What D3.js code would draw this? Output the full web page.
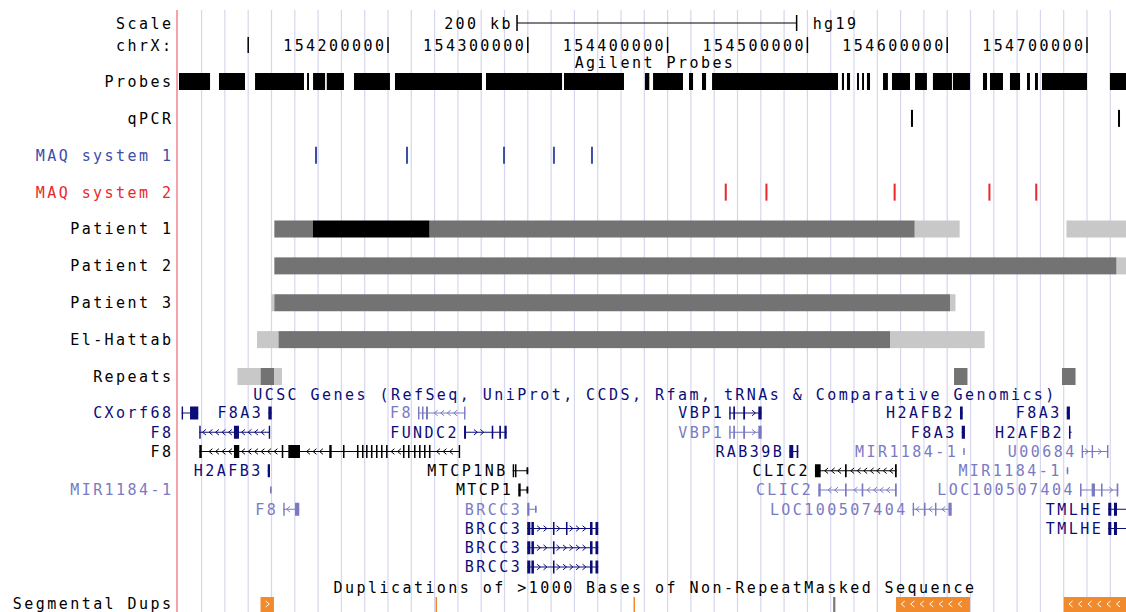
<!DOCTYPE html>
<html>
<head>
<meta charset="utf-8">
<script src="https://cdn.jsdelivr.net/npm/d3@7"></script>
<style>
  body { margin: 0; background: #fff; }
  svg { display: block; }
  text { font-family: "DejaVu Sans Mono", monospace; font-size: 15px; letter-spacing: 2.45px; }
</style>
</head>
<body>
<svg id="chart" width="1126" height="612"></svg>
<script>
// ---- data (positions in kb on chrX, hg19) ----
const viewRange = [154049.07, 154727.9];
const axisTicks = [154100, 154200, 154300, 154400, 154500, 154600, 154700];
const tickLabels = ['', '154200000', '154300000', '154400000', '154500000', '154600000', '154700000'];
const scaleBarStart = 154292.3;
const scaleBarKb = 200;

const trackNames = ['Probes', 'qPCR', 'MAQ system 1', 'MAQ system 2', 'Patient 1', 'Patient 2', 'Patient 3', 'El-Hattab', 'Repeats'];

const probes = [
  [154050.5, 154072.7], [154079.1, 154097.7], [154104.9, 154139.9], [154142.1, 154143.5],
  [154146.4, 154155.0], [154156.2, 154168.5], [154175.7, 154201.4], [154205.0, 154267.2], [154270.1, 154324.5],
  [154325.9, 154368.8], [154383.8, 154386.9], [154389.6, 154411.0], [154415.3, 154418.2],
  [154424.6, 154427.5], [154431.8, 154521.9], [154524.7, 154526.2], [154528.3, 154530.5],
  [154535.5, 154536.9], [154539.1, 154540.5], [154542.6, 154544.8], [154554.1, 154557.6],
  [154560.5, 154573.4], [154577.0, 154585.5], [154589.8, 154603.4], [154604.1, 154616.3],
  [154625.6, 154628.5], [154630.6, 154639.9], [154644.9, 154652.1], [154657.1, 154659.2],
  [154662.8, 154664.9], [154667.8, 154700.0], [154716.4, 154740.0]
];
const qpcrSites = [154574.8, 154722.9];
const maq1Sites = [154148.5, 154213.6, 154283.0, 154318.7, 154345.9];
const maq2Sites = [154441.6, 154470.7, 154562.4, 154630.2, 154663.7];

// level: 2 = black, 1 = dark grey, 0 = light grey
const patient1 = [[154118.7, 154146.3, 1], [154146.3, 154229.8, 2], [154229.8, 154576.8, 1], [154576.8, 154608.9, 0], [154685.3, 154740, 0]];
const patient2 = [[154118.7, 154721.2, 1], [154721.2, 154740, 0]];
const patient3 = [[154116.6, 154118.7, 0], [154118.7, 154602.0, 1], [154602.0, 154605.9, 0]];
const elHattab = [[154106.3, 154121.7, 0], [154121.7, 154559.1, 1], [154559.1, 154626.8, 0]];
const repeats = [[154092.3, 154108.9, 0], [154108.9, 154118.7, 1], [154118.7, 154124.2, 0], [154604.9, 154614.5, 1], [154682.1, 154691.8, 1]];

// UCSC genes: kind pdb = black, refseq = dark blue, other = light blue; exon [start, end, coding]
const genes = [
  { name: 'CXorf68', row: 1, kind: 'refseq', strand: '+', start: 154052.4, end: 154064.3, exons: [[154052.4, 154053.4, 1], [154058.4, 154064.3, 1]] },
  { name: 'F8A3', row: 1, kind: 'refseq', strand: '-', start: 154114.4, end: 154116.8, exons: [[154114.4, 154116.8, 1]] },
  { name: 'F8', row: 1, kind: 'other', strand: '-', start: 154221.45, end: 154255.4, exons: [[154221.45, 154222.5, 1], [154224.3, 154225.4, 1], [154227.2, 154228.6, 1], [154254.4, 154255.4, 1]] },
  { name: 'VBP1', row: 1, kind: 'refseq', strand: '+', start: 154444.1, end: 154467.3, exons: [[154444.1, 154445.1, 1], [154447.0, 154448.2, 1], [154454.1, 154455.4, 1], [154464.9, 154467.3, 1]] },
  { name: 'H2AFB2', row: 1, kind: 'refseq', strand: '-', start: 154609.15, end: 154611.1, exons: [[154609.15, 154611.1, 1]] },
  { name: 'F8A3', row: 1, kind: 'refseq', strand: '-', start: 154685.5, end: 154687.8, exons: [[154685.5, 154687.8, 1]] },

  { name: 'F8', row: 2, kind: 'refseq', strand: '-', start: 154065.0, end: 154115.6, exons: [[154065.0, 154066.0, 1], [154089.8, 154093.4, 1], [154114.7, 154115.6, 1]] },
  { name: 'FUNDC2', row: 2, kind: 'refseq', strand: '+', start: 154254.4, end: 154284.9, exons: [[154254.4, 154255.8, 1], [154274.2, 154275.3, 1], [154279.6, 154280.8, 1], [154283.3, 154284.9, 1]] },
  { name: 'VBP1', row: 2, kind: 'other', strand: '+', start: 154444.1, end: 154467.3, exons: [[154444.1, 154445.1, 1], [154447.0, 154448.2, 1], [154454.1, 154455.4, 1], [154464.9, 154467.3, 1]] },
  { name: 'F8A3', row: 2, kind: 'refseq', strand: '-', start: 154610.4, end: 154612.7, exons: [[154610.4, 154612.7, 1]] },
  { name: 'H2AFB2', row: 2, kind: 'refseq', strand: '-', start: 154687.1, end: 154689.0, exons: [[154687.1, 154688.2, 1]] },

  { name: 'F8', row: 3, kind: 'pdb', strand: '-', start: 154065.0, end: 154251.5, exons: [
      [154065.0, 154066.8, 1], [154089.8, 154093.6, 1], [154124.0, 154125.1, 1], [154128.7, 154137.05, 1],
      [154158.0, 154159.7, 1], [154167.8, 154168.9, 1], [154177.8, 154178.9, 1], [154181.4, 154182.5, 1],
      [154184.3, 154185.4, 1], [154187.8, 154188.9, 1], [154191.4, 154192.5, 1], [154195.0, 154196.1, 1],
      [154198.6, 154199.7, 1], [154210.7, 154211.8, 1], [154214.3, 154215.4, 1], [154218.6, 154219.7, 1],
      [154222.2, 154223.3, 1], [154225.75, 154226.85, 1], [154229.3, 154230.4, 1], [154250.6, 154251.5, 1]] },
  { name: 'RAB39B', row: 3, kind: 'refseq', strand: '-', start: 154487.05, end: 154493.5, exons: [[154487.05, 154489.9, 1], [154492.3, 154493.5, 1]] },
  { name: 'MIR1184-1', row: 3, kind: 'other', strand: '-', start: 154611.5, end: 154612.5, exons: [[154611.5, 154612.5, 0]] },
  { name: 'U00684', row: 3, kind: 'other', strand: '+', start: 154696.2, end: 154715.2, exons: [[154696.2, 154697.1, 1], [154703.35, 154704.3, 1], [154714.3, 154715.2, 1]] },

  { name: 'H2AFB3', row: 4, kind: 'refseq', strand: '-', start: 154113.95, end: 154115.6, exons: [[154113.95, 154115.6, 1]] },
  { name: 'MTCP1NB', row: 4, kind: 'pdb', strand: '+', start: 154289.2, end: 154300.35, exons: [[154289.2, 154290.1, 1], [154290.8, 154291.9, 1], [154299.06, 154300.35, 0]] },
  { name: 'CLIC2', row: 4, kind: 'pdb', strand: '-', start: 154505.4, end: 154563.9, exons: [[154505.4, 154509.5, 1], [154526.9, 154528.1, 1], [154562.65, 154563.9, 1]] },
  { name: 'MIR1184-1', row: 4, kind: 'other', strand: '-', start: 154685.5, end: 154686.6, exons: [[154685.5, 154686.6, 0]] },

  { name: 'MIR1184-1', row: 5, kind: 'other', strand: '-', start: 154115.6, end: 154116.8, exons: [[154115.6, 154116.8, 0]] },
  { name: 'MTCP1', row: 5, kind: 'pdb', strand: '+', start: 154293.2, end: 154300.35, exons: [[154293.2, 154294.9, 1], [154299.06, 154300.35, 0]] },
  { name: 'CLIC2', row: 5, kind: 'other', strand: '-', start: 154507.8, end: 154563.9, exons: [[154507.8, 154509.5, 1], [154526.9, 154528.1, 1], [154538.8, 154540.0, 1], [154562.65, 154563.9, 1]] },
  { name: 'LOC100507404', row: 5, kind: 'other', strand: '+', start: 154695.0, end: 154722.4, exons: [[154695.0, 154696.1, 1], [154703.35, 154705.7, 1], [154710.0, 154711.1, 1], [154721.2, 154722.4, 1]] },

  { name: 'F8', row: 6, kind: 'other', strand: '-', start: 154125.1, end: 154136.55, exons: [[154125.1, 154126.1, 1], [154133.5, 154136.55, 1]] },
  { name: 'BRCC3', row: 6, kind: 'other', strand: '+', start: 154299.6, end: 154306.3, exons: [[154299.6, 154301.2, 1], [154305.15, 154306.3, 0]] },
  { name: 'LOC100507404', row: 6, kind: 'other', strand: '-', start: 154575.3, end: 154603.2, exons: [[154575.3, 154576.2, 1], [154583.4, 154584.5, 1], [154591.3, 154592.3, 1], [154600.9, 154603.2, 1]] },
  { name: 'TMLHE', row: 6, kind: 'refseq', strand: '-', start: 154715.2, end: 154740, exons: [[154715.2, 154717.4, 1], [154719.3, 154721.45, 1]] },

  { name: 'BRCC3', row: 7, kind: 'refseq', strand: '+', start: 154299.6, end: 154350.4, exons: [[154299.6, 154301.8, 1], [154302.6, 154304.4, 1], [154318.0, 154319.1, 1], [154327.3, 154328.4, 1], [154344.5, 154346.3, 1], [154348.4, 154350.4, 1]] },
  { name: 'TMLHE', row: 7, kind: 'refseq', strand: '-', start: 154715.2, end: 154740, exons: [[154715.2, 154717.4, 1], [154719.3, 154721.45, 1]] },
  { name: 'BRCC3', row: 8, kind: 'refseq', strand: '+', start: 154299.6, end: 154350.4, exons: [[154299.6, 154301.8, 1], [154302.6, 154304.4, 1], [154318.0, 154319.1, 1], [154344.5, 154346.3, 1], [154348.4, 154350.4, 1]] },
  { name: 'BRCC3', row: 9, kind: 'refseq', strand: '+', start: 154299.6, end: 154350.4, exons: [[154299.6, 154301.8, 1], [154302.6, 154304.4, 1], [154318.0, 154319.1, 1], [154344.5, 154346.3, 1], [154348.4, 154350.4, 1]] }
];

// segmental dups: [start, end, strand, identity]
const segDups = [
  [154108.8, 154118.4, '+', 'high'], [154234.0, 154234.9, '+', 'high'], [154375.6, 154376.5, '+', 'high'],
  [154518.4, 154520.0, '+', 'low'], [154563.4, 154616.3, '-', 'high'], [154683.4, 154740.0, '-', 'high']
];

// ---- drawing ----
const svg = d3.select('#chart');
const W = 1126, H = 612, left = 177, labelEnd = 173.5;
const x = d3.scaleLinear().domain(viewRange).range([left, W]);
const trackY = d3.scalePoint().domain(trackNames).range([81.5, 376.5]);
const geneY = d3.scaleLinear().domain([1, 9]).range([413, 567]);

const shade = ['#c8c8c8', '#737373', '#000000'];
const geneColor = { pdb: '#000000', refseq: '#0c0c78', other: '#7a7ac2' };
const labelColor = { 'MAQ system 1': '#3c4ea8', 'MAQ system 2': '#e8282e' };

svg.append('defs').append('clipPath').attr('id', 'data-clip')
  .append('rect').attr('x', left + 1).attr('y', 0).attr('width', W - left).attr('height', H);

// guidelines every 1/6 of 100 kb
const guides = d3.range(-2, 38).map(k => axisTicks[0] + k * 100 / 6)
  .filter(v => v > viewRange[0] && v < viewRange[1]);
svg.append('g').selectAll('line').data(guides).join('line')
  .attr('x1', d => x(d)).attr('x2', d => x(d))
  .attr('y1', 10).attr('y2', H)
  .attr('stroke', '#d6d6ee').attr('stroke-width', 1.2);

svg.append('line').attr('x1', left).attr('x2', left).attr('y1', 10).attr('y2', H)
  .attr('stroke', '#f4a3aa').attr('stroke-width', 2);

const data = svg.append('g').attr('clip-path', 'url(#data-clip)');

// left labels
function leftLabel(txt, y, color) {
  svg.append('text').attr('x', labelEnd).attr('y', y).attr('dy', '0.36em')
    .attr('text-anchor', 'end').attr('fill', color || '#000').text(txt);
}
leftLabel('Scale', 24);
leftLabel('chrX:', 46);
trackNames.forEach(t => leftLabel(t, trackY(t), labelColor[t]));
leftLabel('Segmental Dups', 604);

// scale bar
const sb0 = x(scaleBarStart), sb1 = x(scaleBarStart + scaleBarKb);
const sbY = 23;
svg.append('line').attr('x1', sb0).attr('x2', sb1).attr('y1', sbY).attr('y2', sbY).attr('stroke', '#000');
[sb0, sb1].forEach(p => svg.append('line').attr('x1', p).attr('x2', p).attr('y1', sbY - 8).attr('y2', sbY + 8)
  .attr('stroke', '#000').attr('stroke-width', 1.5));
svg.append('text').attr('x', sb0 - 4).attr('y', sbY + 1).attr('dy', '0.36em').attr('text-anchor', 'end').text(scaleBarKb + ' kb');
svg.append('text').attr('x', sb1 + 16).attr('y', sbY + 1).attr('dy', '0.36em').text('hg19');

// position ticks
axisTicks.forEach((v, i) => {
  svg.append('line').attr('x1', x(v)).attr('x2', x(v)).attr('y1', 37).attr('y2', 53)
    .attr('stroke', '#000').attr('stroke-width', 1.5);
  svg.append('text').attr('x', x(v) - 1.5).attr('y', 46).attr('dy', '0.36em')
    .attr('text-anchor', 'end').text(tickLabels[i]);
});

// centre titles
const mid = 655;
svg.append('text').attr('x', mid).attr('y', 63).attr('dy', '0.36em').attr('text-anchor', 'middle').text('Agilent Probes');
svg.append('text').attr('x', mid).attr('y', 395).attr('dy', '0.36em').attr('text-anchor', 'middle')
  .attr('fill', geneColor.refseq).text('UCSC Genes (RefSeq, UniProt, CCDS, Rfam, tRNAs & Comparative Genomics)');
svg.append('text').attr('x', mid).attr('y', 588).attr('dy', '0.36em').attr('text-anchor', 'middle')
  .text('Duplications of >1000 Bases of Non-RepeatMasked Sequence');

const barH = 17;
// probes
data.append('g').selectAll('rect').data(probes).join('rect')
  .attr('x', d => x(d[0])).attr('width', d => Math.max(1.5, x(d[1]) - x(d[0])))
  .attr('y', trackY('Probes') - barH / 2).attr('height', barH).attr('fill', '#000');

// site ticks
function sites(arr, track, color) {
  data.append('g').selectAll('rect').data(arr).join('rect')
    .attr('x', d => x(d) - 1).attr('width', 2)
    .attr('y', trackY(track) - barH / 2).attr('height', barH).attr('fill', color);
}
sites(qpcrSites, 'qPCR', '#000');
sites(maq1Sites, 'MAQ system 1', labelColor['MAQ system 1']);
sites(maq2Sites, 'MAQ system 2', labelColor['MAQ system 2']);

// segment tracks
[[patient1, 'Patient 1'], [patient2, 'Patient 2'], [patient3, 'Patient 3'], [elHattab, 'El-Hattab'], [repeats, 'Repeats']]
  .forEach(([segs, track]) => {
    data.append('g').selectAll('rect').data(segs).join('rect')
      .attr('x', d => x(d[0])).attr('width', d => x(d[1]) - x(d[0]))
      .attr('y', trackY(track) - barH / 2).attr('height', barH)
      .attr('fill', d => shade[d[2]]);
  });

// chevron path
function chevron(cx, cy, strand, s) {
  const d = strand === '+' ? 1 : -1;
  return `M${cx - d * s * 0.6},${cy - s} L${cx + d * s * 0.6},${cy} L${cx - d * s * 0.6},${cy + s}`;
}

// genes
const geneG = svg.append('g');
genes.forEach(g => {
  const y = geneY(g.row);
  const col = geneColor[g.kind];
  const x0 = x(g.start), x1 = Math.min(x(g.end), W);
  const gg = geneG.append('g');
  gg.append('line').attr('x1', x0).attr('x2', x1).attr('y1', y).attr('y2', y).attr('stroke', col);
  const ex = g.exons.map(e => [x(e[0]), x(e[1])]);
  for (let cx = x0 + 5; cx < x1 - 3; cx += 6.5) {
    if (ex.some(e => cx > e[0] - 3.5 && cx < e[1] + 3.5)) continue;
    gg.append('path').attr('d', chevron(cx, y, g.strand, 2.8)).attr('fill', 'none').attr('stroke', col);
  }
  gg.selectAll('rect').data(g.exons).join('rect')
    .attr('x', d => x(d[0])).attr('width', d => Math.max(1.4, x(d[1]) - x(d[0])))
    .attr('y', d => y - (d[2] ? 6.5 : 3.5)).attr('height', d => d[2] ? 13 : 7)
    .attr('fill', col);
  const t = gg.append('text').attr('x', x0 - 5).attr('y', y).attr('dy', '0.36em')
    .attr('text-anchor', 'end').attr('fill', col).text(g.name);
  if (x0 - 5 - t.node().getComputedTextLength() < left + 1) t.attr('x', labelEnd);
});

// segmental dups
const dupY = 597;
const dupColor = { high: '#f08a2c', low: '#7a7a7a' };
segDups.forEach(d => {
  const x0 = x(d[0]), x1 = Math.min(x(d[1]), W + 2);
  data.append('rect').attr('x', x0).attr('width', Math.max(1.5, x1 - x0))
    .attr('y', dupY).attr('height', H - dupY).attr('fill', dupColor[d[3]]);
  if (x1 - x0 > 10) {
    for (let cx = x0 + 7; cx < x1 - 3; cx += 9.5) {
      data.append('path').attr('d', chevron(cx, dupY + 7, d[2], 3))
        .attr('fill', 'none').attr('stroke', '#fff');
    }
  }
});
</script>
</body>
</html>
